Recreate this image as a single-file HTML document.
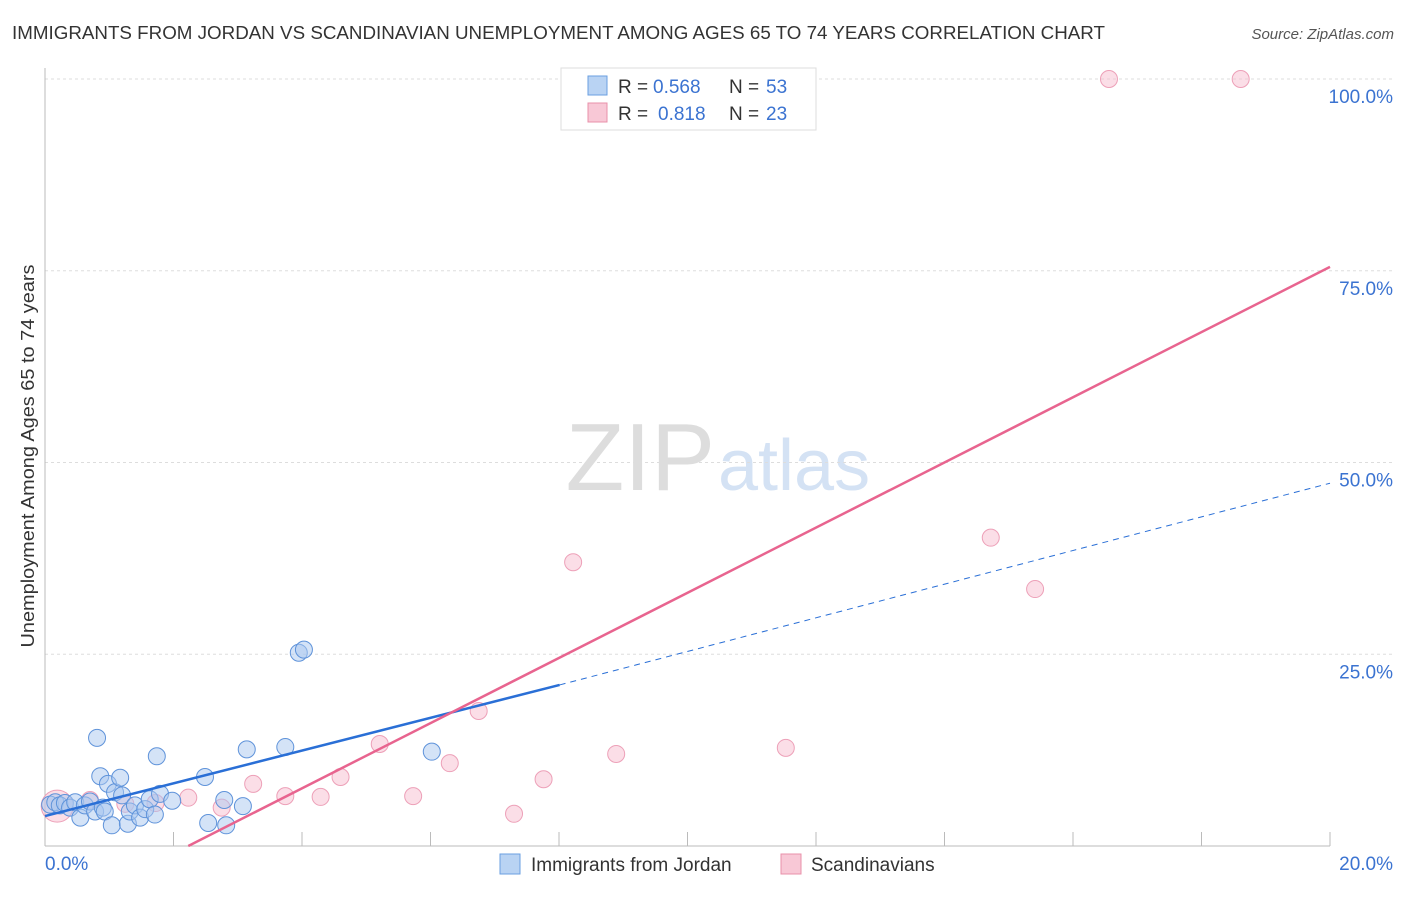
<!DOCTYPE html>
<html><head><meta charset="utf-8"><style>
body{margin:0;background:#fff;font-family:"Liberation Sans",sans-serif;}
svg text{font-family:"Liberation Sans",sans-serif;}
</style></head><body>
<svg id="c" width="1406" height="892">
<text x="12" y="39" font-size="18" fill="#333" textLength="1093" lengthAdjust="spacingAndGlyphs">IMMIGRANTS FROM JORDAN VS SCANDINAVIAN UNEMPLOYMENT AMONG AGES 65 TO 74 YEARS CORRELATION CHART</text>
<text x="1394" y="39" font-size="15" fill="#555" font-style="italic" text-anchor="end">Source: ZipAtlas.com</text>
<text x="715" y="490" font-size="96" fill="#ddd" text-anchor="end" font-family="Liberation Serif">ZIP</text>
<text x="718" y="490" font-size="72" fill="#d4e2f4">atlas</text>
<text x="34" y="456" font-size="18" fill="#333" text-anchor="middle" textLength="383" lengthAdjust="spacingAndGlyphs" transform="rotate(-90 34 456)">Unemployment Among Ages 65 to 74 years</text>
<g id="grid"></g><g id="marks"></g>
<g>
<rect x="561" y="68" width="255" height="62" fill="#fff" stroke="#ddd"/>
<rect x="588" y="76" width="19" height="19" fill="#b9d3f3" stroke="#6a9fe0"/>
<text x="618" y="93" font-size="19" fill="#333">R =</text>
<text x="653" y="93" font-size="19" fill="#3b73d1">0.568</text>
<text x="729" y="93" font-size="19" fill="#333">N =</text>
<text x="766" y="93" font-size="19" fill="#3b73d1">53</text>
<rect x="588" y="103" width="19" height="19" fill="#f8c8d6" stroke="#e890aa"/>
<text x="618" y="120" font-size="19" fill="#333">R =</text>
<text x="658" y="120" font-size="19" fill="#3b73d1">0.818</text>
<text x="729" y="120" font-size="19" fill="#333">N =</text>
<text x="766" y="120" font-size="19" fill="#3b73d1">23</text>
</g>
<g>
<rect x="500" y="854" width="20" height="20" fill="#b9d3f3" stroke="#6a9fe0"/>
<text x="531" y="871" font-size="19" fill="#333">Immigrants from Jordan</text>
<rect x="781" y="854" width="20" height="20" fill="#f8c8d6" stroke="#e890aa"/>
<text x="811" y="871" font-size="19" fill="#333">Scandinavians</text>
</g>
</svg>
<script>
const blueX=[0.08,0.16,0.23,0.31,0.39,0.47,0.55,0.62,0.7,0.78,0.81,0.86,0.9,0.93,0.98,1.04,1.09,1.17,1.2,1.29,1.32,1.4,1.48,1.56,1.63,1.71,1.74,1.79,1.98,2.49,2.54,2.79,2.82,3.08,3.14,3.74,3.95,4.03,6.02];
const blueY=[5.4,5.7,5.3,5.6,5.0,5.7,3.7,5.3,5.8,4.5,14.1,9.1,5.0,4.5,8.1,2.7,7.0,8.9,6.6,2.9,4.5,5.3,3.7,4.8,6.1,4.1,11.7,6.8,5.9,9.0,3.0,6.0,2.7,5.2,12.6,12.9,25.2,25.6,12.3];
const pinkX=[0.19,0.7,1.25,1.72,2.23,2.75,3.24,3.74,4.29,4.6,5.21,5.73,6.3,6.75,7.3,7.76,8.22,8.89,11.53,14.72,15.41,16.56,18.61];
const pinkY=[5.2,6.0,5.5,5.6,6.3,5.0,8.1,6.5,6.4,9.0,13.3,6.5,10.8,17.6,4.2,8.7,37.0,12.0,12.8,40.2,33.5,100,100];
const blueFit=[3.9,21.0,47.3]; const blueFitX=[0,8.01,20];
const pinkFit=[0,75.5]; const pinkFitX=[2.23,20];
const xTicks=[0,20]; const yTicks=[25,50,75,100];
const X=v=>45+v/20*1285, Y=v=>846-v*7.67;
const ns="http://www.w3.org/2000/svg";
function mk(t,a,p){const e=document.createElementNS(ns,t);for(const k in a)e.setAttribute(k,a[k]);p.appendChild(e);return e;}
const g=document.getElementById('grid'), m=document.getElementById('marks');
for(const t of yTicks){
 const l=mk('line',{x1:45,x2:1393,y1:Y(t),y2:Y(t),stroke:'#ddd','stroke-dasharray':'3,3'},g);
 
 
 const tx=mk('text',{x:1393,y:Y(t)+24,'font-size':19,fill:'#3b73d1','text-anchor':'end'},g);tx.textContent=t.toFixed(1)+'%';
 
 
}
mk('line',{x1:45,x2:45,y1:68,y2:846,stroke:'#bbb'},g);
mk('line',{x1:45,x2:1330,y1:846,y2:846,stroke:'#bbb'},g);
for(let i=1;i<=10;i++){const x=45+i*128.5;mk('line',{x1:x,x2:x,y1:832,y2:846,stroke:'#bbb'},g);}
xTicks.forEach((t,i)=>{const tx=mk('text',{x:i?1393:45,y:870,'font-size':19,fill:'#3b73d1','text-anchor':i?'end':'start'},g);tx.textContent=t.toFixed(1)+'%';
 
 });
pinkX.forEach((v,i)=>{const c=mk('circle',{cx:X(v),cy:Y(pinkY[i]),r:i==0?16:8.5,fill:'rgba(248,190,208,0.5)',stroke:'#eda0b8'},m);
 
 });
blueX.forEach((v,i)=>{const c=mk('circle',{cx:X(v),cy:Y(blueY[i]),r:8.5,fill:'rgba(170,200,240,0.5)',stroke:'#5f93da'},m);
 
 });
let l=mk('line',{x1:X(blueFitX[0]),y1:Y(blueFit[0]),x2:X(blueFitX[1]),y2:Y(blueFit[1]),stroke:'#2a6fd6','stroke-width':2.5},m);


l=mk('line',{x1:X(blueFitX[1]),y1:Y(blueFit[1]),x2:X(blueFitX[2]),y2:Y(blueFit[2]),stroke:'#2a6fd6','stroke-width':1,'stroke-dasharray':'6,5'},m);


l=mk('line',{x1:X(pinkFitX[0]),y1:Y(pinkFit[0]),x2:X(pinkFitX[1]),y2:Y(pinkFit[1]),stroke:'#e8648f','stroke-width':2.5},m);


</script>
</body></html>
